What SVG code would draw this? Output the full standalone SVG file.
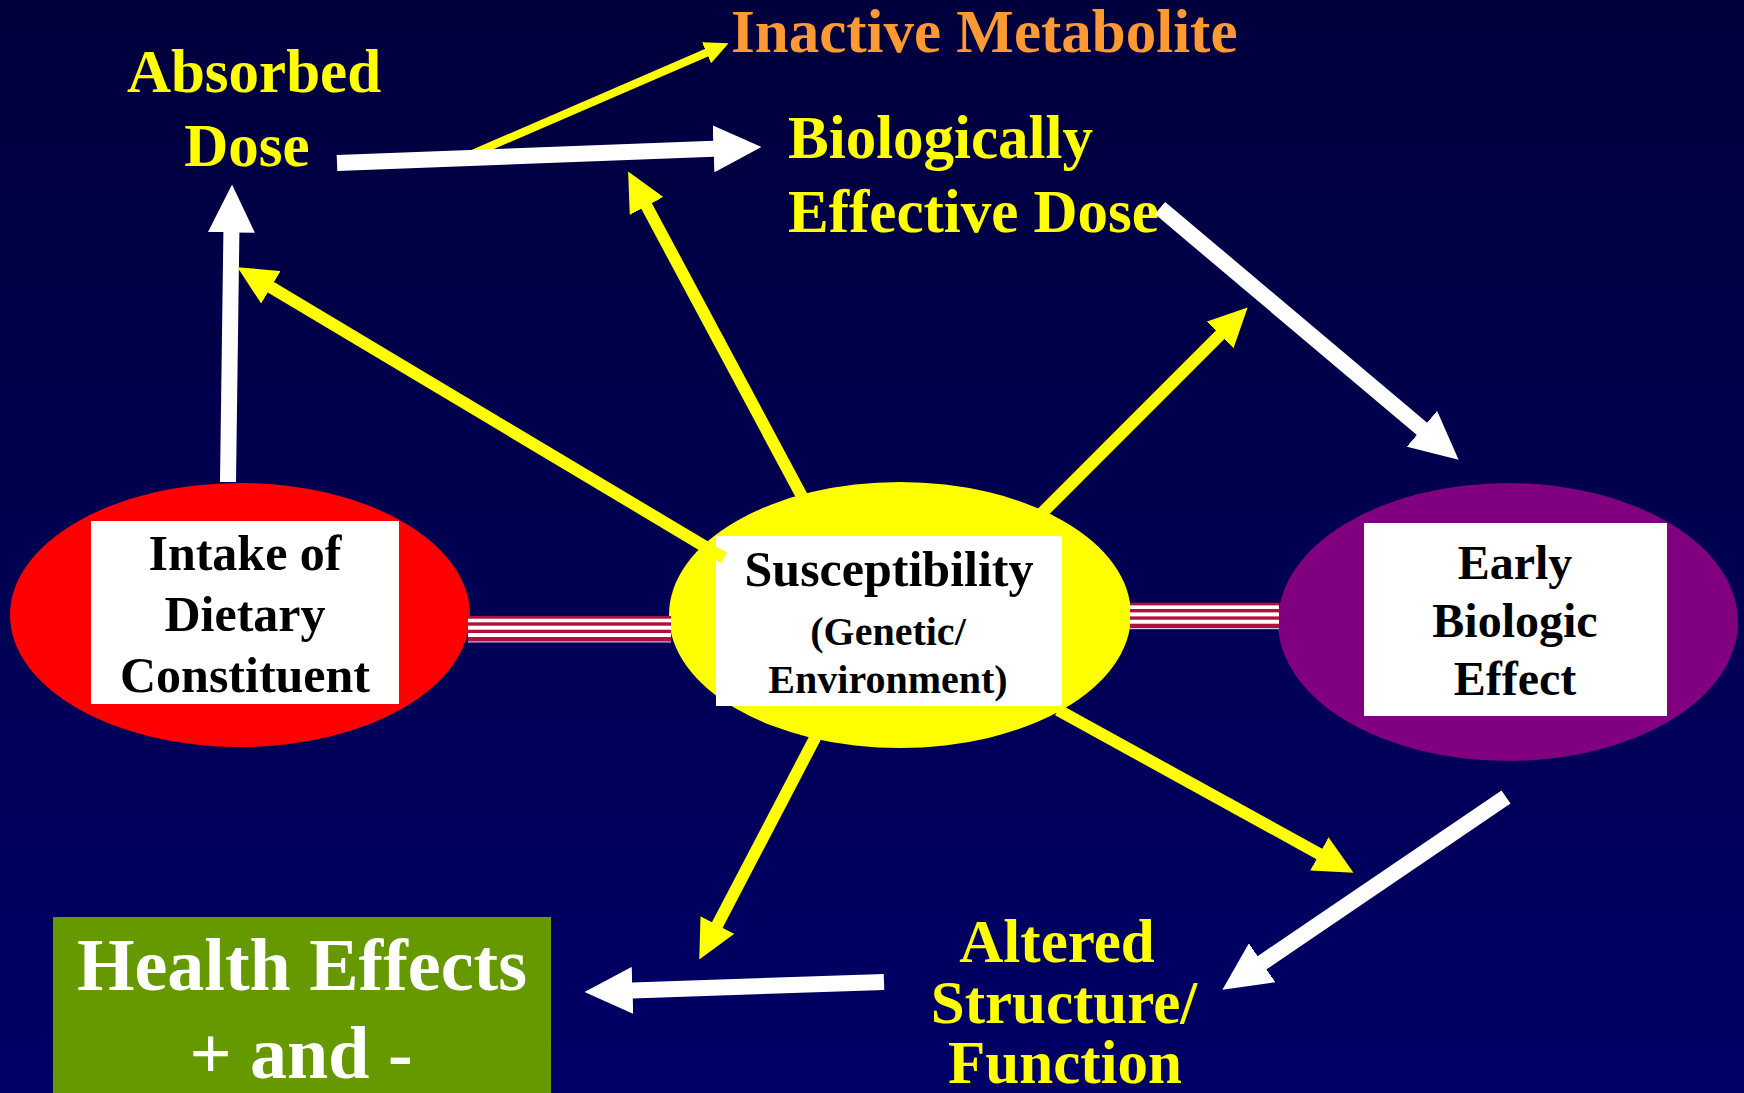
<svg xmlns="http://www.w3.org/2000/svg" width="1744" height="1093" viewBox="0 0 1744 1093">
<defs>
<linearGradient id="bg" x1="0" y1="0" x2="0" y2="1">
<stop offset="0" stop-color="#00003c"/>
<stop offset="1" stop-color="#000066"/>
</linearGradient>
<marker id="hw" markerUnits="userSpaceOnUse" viewBox="0 0 48 47" markerWidth="48" markerHeight="47" refX="0.5" refY="23.5" orient="auto">
<path d="M0,0 L48,23.5 L0,47 Z" fill="#ffffff"/>
</marker>
<marker id="hy" markerUnits="userSpaceOnUse" viewBox="0 0 39 38" markerWidth="39" markerHeight="38" refX="0.5" refY="19" orient="auto">
<path d="M0,0 L39,19 L0,38 Z" fill="#ffff00"/>
</marker>
<marker id="hys" markerUnits="userSpaceOnUse" viewBox="0 0 24 23" markerWidth="24" markerHeight="23" refX="0.5" refY="11.5" orient="auto">
<path d="M0,0 L24,11.5 L0,23 Z" fill="#ffff00"/>
</marker>
</defs>
<style>
.t{font-family:"Liberation Serif","Times New Roman",serif;font-weight:bold;}
.yl{fill:#ffff00;font-size:61px;}
.bk{fill:#000000;}
.w{stroke:#ffffff;stroke-width:16;fill:none;marker-end:url(#hw);}
.y{stroke:#ffff00;stroke-width:12;fill:none;marker-end:url(#hy);}
.ys{stroke:#ffff00;stroke-width:8;fill:none;marker-end:url(#hys);}
.sr{fill:#b0103a;}
.sw{fill:#ffffff;}
.se{fill:#c8c8e8;}
</style>
<rect x="0" y="0" width="1744" height="1093" fill="url(#bg)"/>

<g id="intake">
<ellipse cx="240" cy="615" rx="230" ry="132" fill="#ff0000"/>
<rect x="91" y="521" width="308" height="183" fill="#ffffff"/>
<text class="t bk" font-size="50" text-anchor="middle" x="245" y="570">Intake of</text>
<text class="t bk" font-size="50" text-anchor="middle" x="245" y="631">Dietary</text>
<text class="t bk" font-size="50" text-anchor="middle" x="245" y="692">Constituent</text>
</g>

<g id="susceptibility">
<ellipse cx="900" cy="615" rx="231" ry="133" fill="#ffff00"/>
<rect x="716" y="536" width="346" height="170" fill="#ffffff"/>
<text class="t bk" font-size="50" text-anchor="middle" x="889" y="586">Susceptibility</text>
<text class="t bk" font-size="40" text-anchor="middle" x="888" y="645">(Genetic/</text>
<text class="t bk" font-size="40" text-anchor="middle" x="888" y="693">Environment)</text>
</g>

<g id="early">
<ellipse cx="1508" cy="622" rx="230" ry="139" fill="#800080"/>
<rect x="1364" y="523" width="303" height="193" fill="#ffffff"/>
<text class="t bk" font-size="48" text-anchor="middle" x="1515" y="579">Early</text>
<text class="t bk" font-size="48" text-anchor="middle" x="1515" y="637">Biologic</text>
<text class="t bk" font-size="48" text-anchor="middle" x="1515" y="695">Effect</text>
</g>

<g id="health">
<rect x="53" y="917" width="498" height="176" fill="#669900"/>
<text class="t" fill="#ffffff" font-size="74" text-anchor="middle" x="302" y="990">Health Effects</text>
<text class="t" fill="#ffffff" font-size="74" text-anchor="middle" x="301" y="1078">+ and -</text>
</g>

<g id="absorbed">
<text class="t yl" text-anchor="middle" x="254" y="92">Absorbed</text>
<text class="t yl" text-anchor="middle" x="247" y="166">Dose</text>
</g>

<g id="inactive">
<text class="t" fill="#ff9933" font-size="61" x="731" y="52">Inactive Metabolite</text>
</g>

<g id="bed">
<text class="t yl" x="788" y="158">Biologically</text>
<text class="t yl" x="788" y="232">Effective Dose</text>
</g>

<g id="altered">
<text class="t yl" text-anchor="middle" x="1057" y="962">Altered</text>
<text class="t yl" text-anchor="middle" x="1064" y="1023">Structure/</text>
<text class="t yl" text-anchor="middle" x="1065" y="1083">Function</text>
</g>

<g id="connectors">
<g id="stripes-left">
<rect class="sr" x="468" y="616" width="203" height="25.3"/>
<rect class="sw" x="468" y="618.7" width="203" height="3.6"/>
<rect class="sw" x="468" y="625.7" width="203" height="4"/>
<rect class="sw" x="468" y="633" width="203" height="4"/>
<rect class="se" x="468" y="641.3" width="203" height="1.2"/>
</g>
<g id="stripes-right">
<rect class="sr" x="1130" y="602.7" width="149" height="25.3"/>
<rect class="sw" x="1130" y="605.4" width="149" height="3.6"/>
<rect class="sw" x="1130" y="612.4" width="149" height="4"/>
<rect class="sw" x="1130" y="619.7" width="149" height="4"/>
<rect class="se" x="1130" y="628" width="149" height="1.2"/>
</g>
<path class="ys" d="M470,155 L707,52.5"/>
<path class="w" d="M337,163 L714,148.8"/>
<path class="w" d="M228,482 L231.4,232"/>
<path class="w" d="M1160,208 L1422.3,429.1"/>
<path class="w" d="M1506,797 L1261.7,963"/>
<path class="w" d="M884,982 L632,990.4"/>
<path class="y" d="M724,558 L270.5,287"/>
<path class="y" d="M805,502 L646.3,205.5"/>
<path class="y" d="M1035,520 L1220.4,334.6"/>
<path class="y" d="M1058,710 L1319.8,854.2"/>
<path class="y" d="M818,732.3 L717.1,925.4"/>
</g>
</svg>
